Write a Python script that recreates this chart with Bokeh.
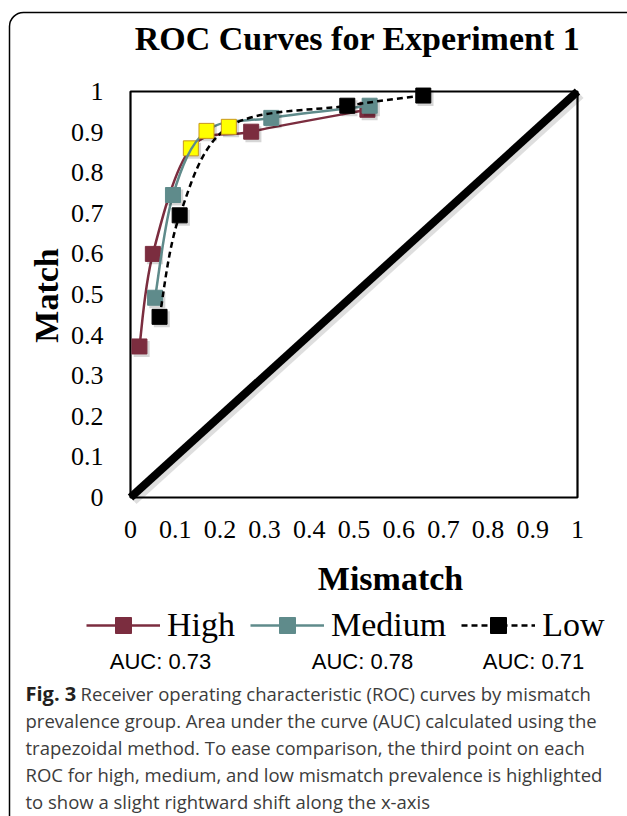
from bokeh.plotting import figure
from bokeh.models import (Range1d, FixedTicker, Label, Legend, LegendItem,
                          BoxAnnotation, ColumnDataSource)
from bokeh.transform import dodge
from bokeh.embed import file_html
from bokeh.resources import INLINE
import math

# ---------------- data ----------------
ticks = [0, 0.1, 0.2, 0.3, 0.4, 0.5, 0.6, 0.7, 0.8, 0.9, 1]
tick_labels = ["0", "0.1", "0.2", "0.3", "0.4", "0.5", "0.6", "0.7", "0.8", "0.9", "1"]

high_x = [0.02, 0.05, 0.135, 0.27, 0.53]
high_y = [0.372, 0.600, 0.860, 0.901, 0.955]

medium_x = [0.055, 0.095, 0.17, 0.315, 0.535]
medium_y = [0.492, 0.745, 0.903, 0.935, 0.965]

low_x = [0.065, 0.11, 0.22, 0.485, 0.655]
low_y = [0.445, 0.695, 0.913, 0.965, 0.990]

diag_x = [0, 1]
diag_y = [0, 1]

series_names = ["High", "Medium", "Low"]
auc_labels = ["AUC: 0.73", "AUC: 0.78", "AUC: 0.71"]
highlight_index = 2  # third point of each ROC is highlighted

title_text = "ROC Curves for Experiment 1"
x_title = "Mismatch"
y_title = "Match"
caption_bold = "Fig. 3"
caption_lines = [
    "Receiver operating characteristic (ROC) curves by mismatch",
    "prevalence group. Area under the curve (AUC) calculated using the",
    "trapezoidal method. To ease comparison, the third point on each",
    "ROC for high, medium, and low mismatch prevalence is highlighted",
    "to show a slight rightward shift along the x-axis",
]

# ---------------- layout / styles ----------------
W, H = 627, 816
PL, PR, PT, PB = 130, 577, 91, 497          # plot-area box in pixels
HIGH_C = "#7B2D3F"
MED_C = "#5F8B8B"
LOW_C = "#000000"
YELLOW = "#FFFF00"
YELLOW_EDGE = "#C8961E"
SERIF = "Liberation Serif"

sx = PR - PL
sy = PB - PT
x_range = Range1d(-PL / sx, (W - PL) / sx)
y_range = Range1d(-(H - PB) / sy, PB / sy)

p = figure(width=W, height=H, output_backend="svg", toolbar_location=None,
           x_range=x_range, y_range=y_range, min_border=0,
           background_fill_color="white", border_fill_color="white",
           outline_line_color=None)
p.title.text = ""
p.title.visible = False
p.xgrid.visible = False
p.ygrid.visible = False

overrides = {t: l for t, l in zip(ticks, tick_labels)}
for ax in (p.xaxis[0], p.yaxis[0]):
    ax.fixed_location = 0
    ax.bounds = (0, 1)
    ax.ticker = FixedTicker(ticks=ticks)
    ax.major_label_overrides = overrides
    ax.major_tick_line_color = None
    ax.minor_tick_line_color = None
    ax.major_tick_in = 0
    ax.major_tick_out = 0
    ax.axis_line_color = None
    ax.major_label_text_font = SERIF
    ax.major_label_text_font_size = "26px"
    ax.major_label_text_color = "black"
p.yaxis[0].major_label_standoff = 27
p.xaxis[0].major_label_standoff = 23

# plot-area box
p.add_layout(BoxAnnotation(left=0, right=1, bottom=0, top=1, fill_alpha=0,
                           line_color="black", line_alpha=1.0, line_width=2.2,
                           level="underlay"))

# diagonal reference line with soft shadow
dsrc = ColumnDataSource(dict(x=diag_x, y=diag_y))
p.line(x=dodge("x", 0.006), y=dodge("y", -0.007), source=dsrc,
       line_color="black", line_alpha=0.13, line_width=10)
p.line(x="x", y="y", source=dsrc, line_color="black", line_width=8)


def smooth_source(xs, ys):
    n = len(xs)
    d = dict(x0=[], y0=[], x1=[], y1=[], cx0=[], cy0=[], cx1=[], cy1=[])
    for i in range(n - 1):
        ip = i - 1 if i > 0 else i
        inx = i + 2 if i + 2 < n else i + 1
        d["x0"].append(xs[i]); d["y0"].append(ys[i])
        d["x1"].append(xs[i + 1]); d["y1"].append(ys[i + 1])
        d["cx0"].append(xs[i] + (xs[i + 1] - xs[ip]) / 6.0)
        d["cy0"].append(ys[i] + (ys[i + 1] - ys[ip]) / 6.0)
        d["cx1"].append(xs[i + 1] - (xs[inx] - xs[i]) / 6.0)
        d["cy1"].append(ys[i + 1] - (ys[inx] - ys[i]) / 6.0)
    return ColumnDataSource(d)


items = []
for name, xs, ys, col, dash in [("High", high_x, high_y, HIGH_C, "solid"),
                                ("Medium", medium_x, medium_y, MED_C, "solid"),
                                ("Low", low_x, low_y, LOW_C, "6 4")]:
    bsrc = smooth_source(xs, ys)
    br = p.bezier(x0="x0", y0="y0", x1="x1", y1="y1", cx0="cx0", cy0="cy0",
                  cx1="cx1", cy1="cy1", source=bsrc, line_color=col,
                  line_width=2.5, line_dash=dash)
    fills = [YELLOW if i == highlight_index else col for i in range(len(xs))]
    edges = [YELLOW_EDGE if i == highlight_index else col for i in range(len(xs))]
    msrc = ColumnDataSource(dict(x=xs, y=ys, fill=fills, edge=edges))
    p.scatter(x=dodge("x", 0.005), y=dodge("y", -0.006), source=msrc,
              marker="square", size=16, fill_color="black", fill_alpha=0.16,
              line_color=None)
    sr = p.scatter(x="x", y="y", source=msrc, marker="square", size=15,
                   fill_color="fill", line_color="edge", line_width=1)
    items.append(LegendItem(label=name, renderers=[br, sr], index=0))

# legend (screen units: x from left edge, y up from bottom edge)
legend = Legend(items=items, orientation="horizontal", location=(86, H - 645),
                glyph_width=74, glyph_height=40, label_height=40,
                label_standoff=7, spacing=15, padding=0, margin=0,
                border_line_color=None, background_fill_alpha=0,
                label_text_font=SERIF, label_text_font_size="34px",
                label_text_color="black")
p.add_layout(legend, "center")


def label(x, y, text, **kw):
    p.add_layout(Label(x=x, y=H - y, x_units="screen", y_units="screen",
                       text=text, **kw))


label(357, 38, title_text, text_font=SERIF, text_font_style="bold",
      text_font_size="34px", text_align="center", text_baseline="alphabetic",
      text_color="black")
label(390, 578, x_title, text_font=SERIF, text_font_style="bold",
      text_font_size="34px", text_align="center", text_baseline="alphabetic",
      text_color="black")
label(46, 295, y_title, angle=math.pi / 2, text_font=SERIF,
      text_font_style="bold", text_font_size="34px", text_align="center",
      text_baseline="alphabetic", text_color="black")

auc_x = [160, 362, 533]
for xx, t in zip(auc_x, auc_labels):
    label(xx, 661, t, text_font="Liberation Sans", text_font_size="22px",
          text_align="center", text_baseline="alphabetic", text_color="black")

cap_base = [693, 720, 747, 773.5, 800.5]
label(25, cap_base[0], caption_bold, text_font="Open Sans",
      text_font_style="bold", text_font_size="20px",
      text_baseline="alphabetic", text_color="#231F20")
for i, (yy, t) in enumerate(zip(cap_base, caption_lines)):
    label(80 if i == 0 else 25, yy, t, text_font="Open Sans",
          text_font_size="18.5px", text_baseline="alphabetic",
          text_color="#3C3C3C")

# figure frame border (rounded top-left corner, runs off the page)
p.add_layout(BoxAnnotation(left=9, right=W + 60, top=H - 12, bottom=-60,
                           left_units="screen", right_units="screen",
                           top_units="screen", bottom_units="screen",
                           fill_alpha=0, line_color="black", line_alpha=1.0,
                           line_width=1.5, border_radius=14))

open("out.html", "w").write(file_html(p, INLINE))
